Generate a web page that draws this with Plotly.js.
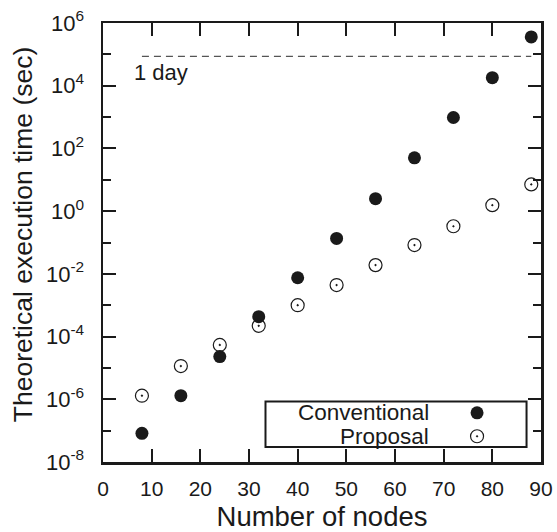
<!DOCTYPE html>
<html>
<head>
<meta charset="utf-8">
<script src="https://cdn.plot.ly/plotly-3.0.1.min.js"></script>
<style>html,body{margin:0;padding:0;background:#fff;}#chart{width:557px;height:532px;}</style>
</head>
<body>
<div id="chart"></div>
<script>
const nodes = [8, 16, 24, 32, 40, 48, 56, 64, 72, 80, 88];
const conventional = [8.2e-8, 1.3e-6, 2.3e-5, 4.3e-4, 7.5e-3, 0.135, 2.5, 50, 970, 1.8e4, 3.6e5];
const proposal = [1.3e-6, 1.15e-5, 5.4e-5, 2.2e-4, 1.0e-3, 4.4e-3, 0.019, 0.083, 0.33, 1.55, 7.1];
const oneDaySec = 86400;
const oneDayX = [8, 88];
const legendNames = ["Conventional", "Proposal"];
const majorExp = [-8, -6, -4, -2, 0, 2, 4, 6];
const minorExp = [-7, -5, -3, -1, 1, 3, 5];

const ink = "#1a1a1a";
const font = "Liberation Sans, Arial, sans-serif";

const traces = [
  {x: oneDayX, y: [oneDaySec, oneDaySec], mode: "lines", line: {color: "#555", width: 1.3, dash: "7px,5px"}, hoverinfo: "skip", showlegend: false},
  {x: nodes, y: conventional, mode: "markers", name: legendNames[0], marker: {symbol: "circle", size: 13, color: ink}, showlegend: false},
  {x: nodes, y: proposal, mode: "markers", name: legendNames[1], marker: {symbol: "circle-open-dot", size: 13, color: ink, line: {width: 1.2}}, showlegend: false},
  {x: [0.854], y: [0.112], xaxis: "x2", yaxis: "y2", mode: "markers", marker: {symbol: "circle", size: 13, color: ink}, showlegend: false, hoverinfo: "skip"},
  {x: [0.854], y: [0.0587], xaxis: "x2", yaxis: "y2", mode: "markers", marker: {symbol: "circle-open-dot", size: 13, color: ink, line: {width: 1.2}}, showlegend: false, hoverinfo: "skip"}
];

const layout = {
  width: 557, height: 532,
  margin: {l: 103, r: 15.5, t: 23, b: 69.5},
  paper_bgcolor: "#fff", plot_bgcolor: "#fff",
  font: {family: font, color: ink, size: 21},
  showlegend: false,
  xaxis: {
    range: [0, 90], dtick: 10, tick0: 0,
    ticks: "inside", ticklen: 13, tickwidth: 2, tickcolor: ink,
    showline: true, linewidth: 2.5, linecolor: ink, mirror: "ticks",
    showgrid: false, zeroline: false,
    ticklabelstandoff: 6,
    tickfont: {size: 21, family: font, color: ink},
    title: {text: "Number of nodes", font: {size: 27.5, family: font, color: ink}, standoff: 12}
  },
  yaxis: {
    type: "log", range: [-8, 6],
    tickvals: majorExp.map(e => Math.pow(10, e)),
    ticktext: majorExp.map(e => "10<sup>" + (e < 0 ? "-" + (-e) : e) + "</sup>"),
    ticks: "inside", ticklen: 13, tickwidth: 2, tickcolor: ink,
    minor: {tickvals: minorExp.map(e => Math.pow(10, e)), ticks: "inside", ticklen: 8, tickwidth: 2, tickcolor: ink, showgrid: false},
    showline: true, linewidth: 2.5, linecolor: ink, mirror: "ticks",
    showgrid: false, zeroline: false,
    ticklabelstandoff: 12,
    tickfont: {size: 22, family: font, color: ink}
  },
  xaxis2: {domain: [0, 1], range: [0, 1], overlaying: "x", visible: false, fixedrange: true},
  yaxis2: {domain: [0, 1], range: [0, 1], overlaying: "y", visible: false, fixedrange: true},
  shapes: [
    {type: "rect", xref: "paper", yref: "paper", x0: 0.371, x1: 0.967, y0: 0.034, y1: 0.138, line: {color: ink, width: 2}, fillcolor: "rgba(255,255,255,0)", layer: "below"}
  ],
  annotations: [
    {x: -0.1824, y: 0.519, xref: "paper", yref: "paper", text: "Theoretical execution time (sec)", textangle: -90, showarrow: false, xanchor: "center", yanchor: "middle", font: {size: 26.5, family: font, color: ink}},
    {x: 6, y: 4.43, xref: "x", yref: "y", text: "1 day", showarrow: false, xanchor: "left", yanchor: "middle", font: {size: 22, family: font, color: ink}},
    {x: 0.748, y: 0.112, xref: "paper", yref: "paper", text: legendNames[0], showarrow: false, xanchor: "right", yanchor: "middle", font: {size: 22.5, family: font, color: ink}},
    {x: 0.748, y: 0.0587, xref: "paper", yref: "paper", text: legendNames[1], showarrow: false, xanchor: "right", yanchor: "middle", font: {size: 22.5, family: font, color: ink}}
  ]
};

Plotly.newPlot("chart", traces, layout, {staticPlot: true, displayModeBar: false});
</script>
</body>
</html>
